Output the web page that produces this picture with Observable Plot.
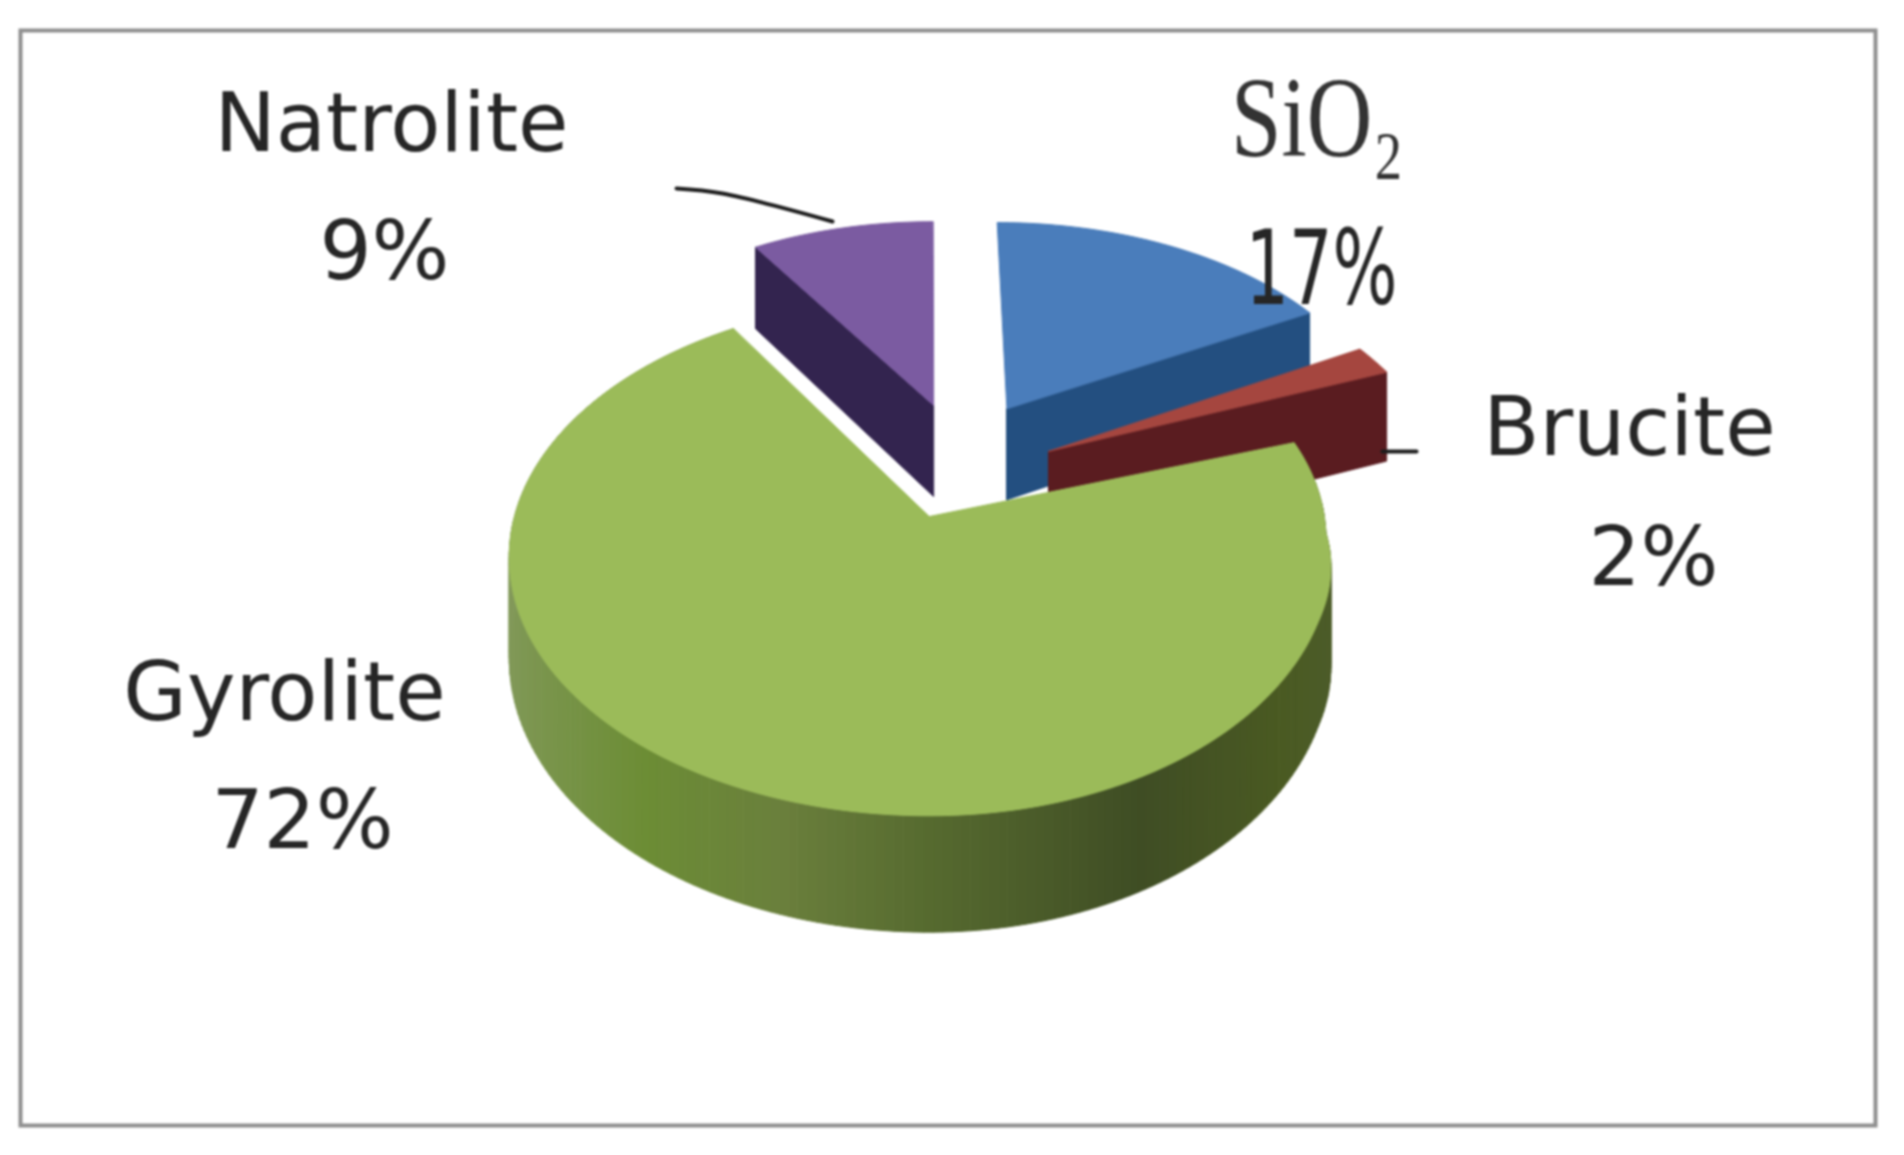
<!DOCTYPE html>
<html>
<head>
<meta charset="utf-8">
<script src="https://cdn.jsdelivr.net/npm/d3@7"></script>
<script src="https://cdn.jsdelivr.net/npm/@observablehq/plot@0.6"></script>
<style>html,body{margin:0;padding:0;background:#fff}svg{display:block;filter:blur(1px)}</style>
</head>
<body>
<script>
// Data: shares in the picture's clockwise order, starting from 12 o'clock
const categories = ["SiO₂", "Brucite", "Gyrolite", "Natrolite"];
const shares = [17, 2, 72, 9];
const shareLabels = ["17%", "2%", "72%", "9%"];

// Look of the slices
const topColors = ["#4a7dbb", "#a5463f", "#9bbb59", "#7b5ba1"];
const sideColors = ["#234f80", "#5a1c20", "#566a2f", "#33244f"];
const explodeU = [0.2, 0.30, 0, 0.01];
const explodeV = [-0.46, -0.27, 0, -0.475];
const radii = [0.97, 0.98, 1, 0.96];
const wallStops = [-1, -0.6, -0.3, 0, 0.45, 0.8, 1];
const wallColors = ["#82995a", "#6c8d35", "#6a7f3c", "#566a2f", "#3f4d24", "#4a5a22", "#4c5c2a"];

// Tilted-disk projection
const view = {ax: 929, ay: 516, R: 415, Q: 252, k: 0.158, D: 98};
const clamp01 = t => Math.max(0, Math.min(1, t));
function project(u, v, lower, warped) {
  const s = 1 / (1 - view.k * v);
  let x = view.ax + view.R * u * s;
  let y = view.ay + view.Q * v * s + (lower ? view.D * s : 0);
  if (warped && u > 0) {
    // the reference disk leans slightly: its right side is pulled in and down
    x = view.ax + (x - view.ax) * (1 - 0.045 * clamp01((v + 0.37) / 0.37));
    y += 16 * u * u * clamp01((0.4 - v) / 0.4);
  }
  return {x, y};
}
const total = d3.sum(shares);
let acc = 0;
const slices = shares.map((value, i) => {
  const a0 = acc / total * 2 * Math.PI;
  acc += value;
  const a1 = acc / total * 2 * Math.PI;
  return {i, a0, a1, du: explodeU[i], dv: explodeV[i], r: radii[i]};
});
const rim = (sl, a, lower) =>
  project(sl.du + sl.r * Math.sin(a), sl.dv - sl.r * Math.cos(a), lower, sl.i === 2);
const apex = (sl, lower) => project(sl.du, sl.dv, lower);

function topFace(sl) {
  const n = Math.max(4, Math.ceil((sl.a1 - sl.a0) / 0.02));
  return [apex(sl), ...d3.range(n + 1).map(j => rim(sl, sl.a0 + (sl.a1 - sl.a0) * j / n))];
}
const radialFace = (sl, a) => [apex(sl), rim(sl, a), rim(sl, a, true), apex(sl, true)];

const wallColor = d3.scaleLinear().domain(wallStops).range(wallColors);
const green = slices[2];
const wallSegments = [];
{
  const step = 0.02;
  for (let a = green.a0, id = 0; a < green.a1; a += step, id++) {
    const b = Math.min(a + step, green.a1);
    const c = wallColor(Math.sin((a + b) / 2));
    for (const p of [rim(green, a), rim(green, b), rim(green, b, true), rim(green, a, true)])
      wallSegments.push({...p, id, c});
  }
}

const poly = (pts, fill) => Plot.line(pts, {x: "x", y: "y", fill, stroke: fill, strokeWidth: 1, curve: "linear-closed"});

// Layout of labels
const labelAt = {
  "Natrolite": {x: 391, y: 150},
  "9%": {x: 384, y: 278},
  "Brucite": {x: 1629, y: 454},
  "2%": {x: 1653, y: 584},
  "Gyrolite": {x: 284, y: 719},
  "72%": {x: 302, y: 847}
};
const plainLabels = Object.keys(labelAt).map(t => ({t, ...labelAt[t]}));
const leaderNatrolite = [{x: 676, y: 188}, {x: 722, y: 193}, {x: 832, y: 221}];
const leaderBrucite = [{x: 1382, y: 451}, {x: 1416, y: 451}];

const [sio2, brucite, gyrolite, natrolite] = slices;

const chart = Plot.plot({
  width: 1904,
  height: 1155,
  marginLeft: 20, marginRight: 29, marginTop: 30, marginBottom: 30,
  x: {domain: [20, 1875], axis: null},
  y: {domain: [30, 1125], reverse: true, axis: null},
  style: {background: "#fff"},
  marks: [
    Plot.frame({stroke: "#8f8f8f", strokeWidth: 4}),
    // Natrolite
    poly(radialFace(natrolite, natrolite.a0), sideColors[3]),
    poly(topFace(natrolite), topColors[3]),
    // SiO2
    poly(radialFace(sio2, sio2.a1), sideColors[0]),
    poly(topFace(sio2), topColors[0]),
    // Brucite
    poly(radialFace(brucite, brucite.a1), sideColors[1]),
    poly(topFace(brucite), topColors[1]),
    // Gyrolite
    Plot.line(wallSegments, {x: "x", y: "y", z: "id", fill: "c", stroke: "c", strokeWidth: 1, curve: "linear-closed"}),
    poly(topFace(gyrolite), topColors[2]),
    // Leaders
    Plot.line(leaderNatrolite, {x: "x", y: "y", stroke: "#1c1c1c", strokeWidth: 4, curve: "catmull-rom"}),
    Plot.line(leaderBrucite, {x: "x", y: "y", stroke: "#1c1c1c", strokeWidth: 4}),
    // Labels
    Plot.text(plainLabels, {
      x: "x", y: "y", text: "t", textAnchor: "middle", lineAnchor: "bottom",
      fontFamily: "DejaVu Sans", fontSize: 82, fill: "#262626"
    }),
    Plot.text([categories[0]], {
      x: () => 1317, y: () => 155, text: d => d, textAnchor: "middle", lineAnchor: "bottom",
      fontFamily: "Liberation Serif", fontSize: 115, fill: "#333"
    }),
    Plot.text([shareLabels[0]], {
      x: () => 1321, y: () => 303, text: d => d, textAnchor: "middle", lineAnchor: "bottom",
      fontFamily: "DejaVu Sans", fontSize: 103, fill: "#262626"
    })
  ]
});

// Narrow the two stretched labels the way the reference does
d3.select(chart).selectAll("text").each(function () {
  const t = this.textContent;
  if (t === categories[0]) d3.select(this).attr("textLength", 173).attr("lengthAdjust", "spacingAndGlyphs");
  if (t === shareLabels[0]) d3.select(this).attr("textLength", 152).attr("lengthAdjust", "spacingAndGlyphs");
});
document.body.appendChild(chart);
</script>
</body>
</html>
